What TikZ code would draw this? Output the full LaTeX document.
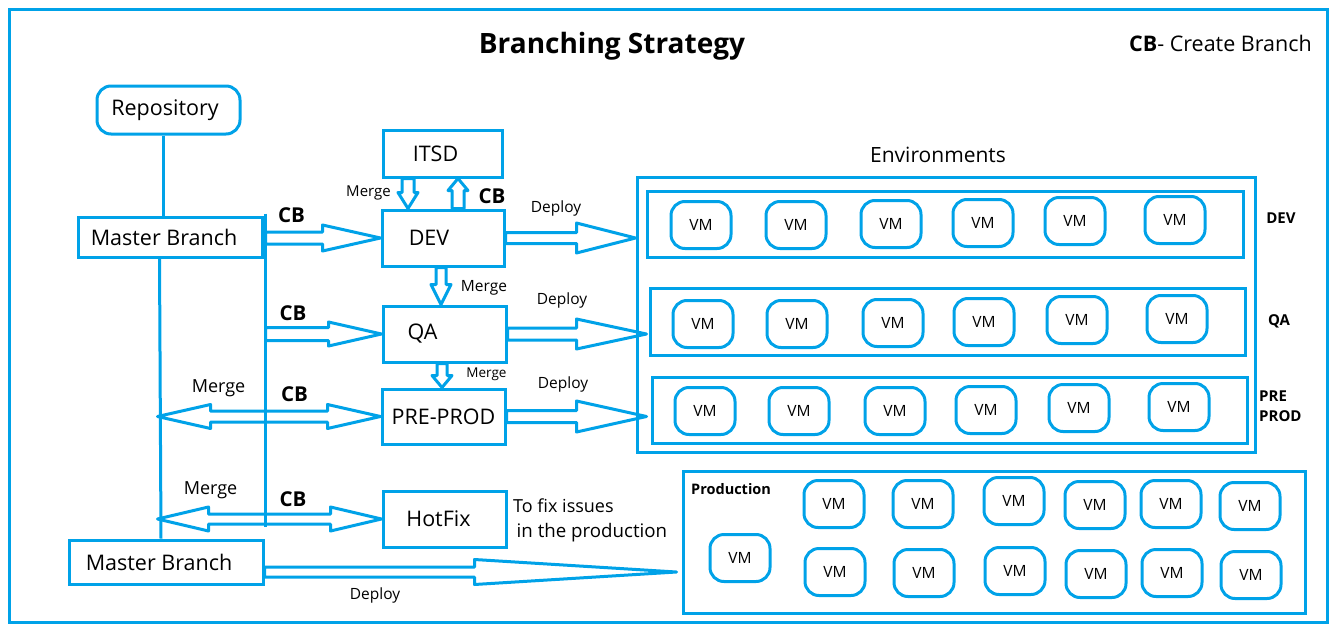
\documentclass[tikz,border=0pt]{standalone}
\usepackage{fontspec}
\setmainfont{Open Sans}
\usetikzlibrary{calc}
\definecolor{bl}{RGB}{0,162,232}
\newcommand\fsz[1]{\fontsize{#1}{#1}\selectfont}
\newcommand\fszb[2]{\fontsize{#1}{#2}\selectfont}
\tikzset{
  ln/.style={draw=bl, line width=3pt},
  blk/.style={draw=bl, line width=3pt, line join=round},
  box/.style={draw=bl, line width=3pt, inner sep=0pt, font=\fsz{21.5}},
  vm/.style={draw=bl, line width=3pt, rounded corners=14pt, minimum width=60pt, minimum height=47pt, inner sep=0pt, font=\fsz{15.5}},
  lbl/.style={inner sep=0pt, font=\fsz{15.5}},
  cb/.style={inner sep=0pt, font=\bfseries\fsz{20.5}},
  envl/.style={inner sep=0pt, font=\bfseries\fsz{15}}
}
% #1 start, #2 tip, #3 shaft half width, #4 head half width, #5 head length (numbers, pt)
\newcommand\blockarrow[5]{%
  \path ($(#2)!#5pt!(#1)$) coordinate (ba-hb);
  \draw[blk] ($(#1)!#3pt!90:(#2)$) -- ($(ba-hb)!#3pt!90:(#2)$) -- ($(ba-hb)!#4pt!90:(#2)$) -- (#2)
    -- ($(ba-hb)!#4pt!-90:(#2)$) -- ($(ba-hb)!#3pt!-90:(#2)$) -- ($(#1)!#3pt!-90:(#2)$) -- cycle;}
% double-headed: #1 tip A, #2 tip B
\newcommand\dblockarrow[5]{%
  \path ($(#1)!#5pt!(#2)$) coordinate (da-a) ($(#2)!#5pt!(#1)$) coordinate (da-b);
  \draw[blk] (#1) -- ($(da-a)!#4pt!90:(#2)$) -- ($(da-a)!#3pt!90:(#2)$) -- ($(da-b)!#3pt!-90:(#1)$)
    -- ($(da-b)!#4pt!-90:(#1)$) -- (#2) -- ($(da-b)!#4pt!90:(#1)$) -- ($(da-b)!#3pt!90:(#1)$)
    -- ($(da-a)!#3pt!-90:(#2)$) -- ($(da-a)!#4pt!-90:(#2)$) -- cycle;}
\begin{document}
\begin{tikzpicture}[x=1pt,y=-1pt]
\useasboundingbox (0,0) rectangle (1336,629);
\fill[white] (0,0) rectangle (1336,629);
\draw[ln] (9,9) rectangle (1327,622);

% titles
\node[inner sep=0pt, font=\bfseries\fsz{28}] (title) at (612,46) {Branching Strategy};
\node[inner sep=0pt, anchor=east, font=\fsz{21.5}] (legend) at (1312,43) {\textbf{CB}- Create Branch};

% left column
\node[box, rounded corners=14pt, minimum width=143pt, minimum height=48pt] (repo) at (168.5,110) {Repository\hspace*{7pt}};
\node[box, minimum width=184pt, minimum height=40pt] (mb1) at (170,237) {Master Branch\hspace*{12pt}};
\node[box, minimum width=194pt, minimum height=44pt] (mb2) at (166,562) {Master Branch\hspace*{14pt}};

% middle column
\node[box, minimum width=119pt, minimum height=47pt] (itsd) at (442.5,153.5) {ITSD\hspace*{14pt}};
\node[box, minimum width=122pt, minimum height=56pt] (dev) at (443,238) {DEV\hspace*{28pt}};
\node[box, minimum width=123pt, minimum height=56pt] (qa) at (444.5,334) {QA\hspace*{44pt}};
\node[box, minimum width=123pt, minimum height=55pt] (pp) at (443.5,416.5) {PRE-PROD};
\node[box, minimum width=123pt, minimum height=56pt] (hf) at (444.5,519) {HotFix\hspace*{12pt}};

% environments
\node[draw=bl, line width=3pt, minimum width=618pt, minimum height=275pt, inner sep=0pt] (env) at (946,314.5) {};
\node[inner sep=0pt, font=\fsz{21}] (envt) at (938,155) {Environments};
\node[draw=bl, line width=3pt, minimum width=596pt, minimum height=66pt, inner sep=0pt] (devenv) at (945,224) {};
\node[draw=bl, line width=3pt, minimum width=595pt, minimum height=67pt, inner sep=0pt] (qaenv) at (947.5,321.5) {};
\node[draw=bl, line width=3pt, minimum width=595pt, minimum height=66pt, inner sep=0pt] (ppenv) at (949.5,410) {};
\node[draw=bl, line width=3pt, minimum width=622pt, minimum height=142pt, inner sep=0pt] (prod) at (994,542) {};

\node[envl] (devl) at (1281,218) {DEV};
\node[envl] (qal) at (1279,321) {QA};
\node[inner sep=0pt, anchor=west, align=left, font=\bfseries\fszb{15}{20}] (ppl) at (1259,406.5) {PRE\\PROD};
\node[inner sep=0pt, anchor=west, font=\bfseries\fsz{14.5}] (prodl) at (691,489) {Production};

% VMs
\foreach \x/\y [count=\i] in {701/225,796/225,891/224,983/223,1075/221,1175/220}
  \node[vm] (dv\i) at (\x,\y) {VM};
\foreach \x/\y [count=\i] in {703/324,797/324,893/323,984/322,1077/320,1177/319}
  \node[vm] (qv\i) at (\x,\y) {VM};
\foreach \x/\y [count=\i] in {705/411,799/411,895/411,986/410,1079/408,1179/407}
  \node[vm] (pv\i) at (\x,\y) {VM};
\foreach \x/\y [count=\i] in {834/504,923/504,1014/501,1095/505,1171/504,1250/506,835/572,924/573,1015/571,1096/574,1172/573,1251/575,740/558}
  \node[vm] (rv\i) at (\x,\y) {VM};

% vertical lines
\coordinate (rl) at ($(repo.south)+(-5.5,0)$);
\draw[ln] (rl) -- (rl |- mb1.north);
\coordinate (ml) at ($(mb1.south)+(-10.5,0)$);
\coordinate (mlb) at ($(mb2.north)+(-5,0)$);
\draw[ln] (ml) -- (mlb);
\coordinate (cbtop) at ($(mb1.north east)+(2,-2)$);
\coordinate (cbbot) at ($(cbtop)+(0,313)$);
\draw[ln] (cbtop) -- (cbbot);

% CB arrows
\coordinate (s1) at (cbtop |- dev.west);
\blockarrow{s1}{dev.west}{6}{13}{58}
\coordinate (s2) at (cbtop |- qa.west);
\blockarrow{s2}{qa.west}{6.5}{12}{53}
\coordinate (l3) at ($(ml |- pp.west)+(-2,0)$);
\dblockarrow{l3}{pp.west}{5.5}{12}{53}
\coordinate (l4) at ($(ml |- hf.west)+(-2,0)$);
\dblockarrow{l4}{hf.west}{5}{12}{51}

% merges between stages
\coordinate (m1s) at ($(itsd.south)+(-34.5,0)$);
\coordinate (m1e) at (m1s |- dev.north);
\blockarrow{m1s}{m1e}{6}{10}{16}
\coordinate (c1s) at ($(dev.north)+(15,0)$);
\coordinate (c1e) at (c1s |- itsd.south);
\blockarrow{c1s}{c1e}{6}{10}{12}
\coordinate (m2s) at ($(dev.south)+(-2,0)$);
\coordinate (m2e) at (m2s |- qa.north);
\blockarrow{m2s}{m2e}{5}{10}{20}
\coordinate (m3s) at ($(qa.south)+(-2.5,0)$);
\coordinate (m3e) at (m3s |- pp.north);
\blockarrow{m3s}{m3e}{5}{10}{12}

% deploy arrows
\coordinate (d1) at (env.west |- dev.east);
\blockarrow{dev.east}{d1}{5.5}{15}{59}
\coordinate (d2) at ($(qaenv.west |- qa.east)+(-2,0)$);
\blockarrow{qa.east}{d2}{6}{15}{70}
\coordinate (d3) at ($(ppenv.west |- pp.east)+(-4,0)$);
\blockarrow{pp.east}{d3}{6}{15.5}{70}
\coordinate (d4s) at ($(mb2.east)+(0,10)$);
\coordinate (d4) at ($(prod.west |- d4s)+(-5,0)$);
\blockarrow{d4s}{d4}{5}{12.5}{202}

% labels
\node[lbl, font=\fsz{15}] (lm1) at (368.5,193) {Merge};
\node[cb] (lc1) at (492,196) {CB};
\node[lbl] (ld1) at (556,208) {Deploy};
\node[lbl, font=\fsz{15.5}] (lm2) at (484,288) {Merge};
\node[lbl] (ld2) at (562,300.5) {Deploy};
\node[lbl, font=\fsz{13.5}] (lm3) at (486.5,374) {Merge};
\node[lbl] (ld3) at (563,384) {Deploy};
\node[cb] (lc2) at (291.5,215.5) {CB};
\node[cb] (lc3) at (293,313) {CB};
\node[lbl, font=\fsz{18}] (lm4) at (218.5,388) {Merge};
\node[cb] (lc4) at (294.5,394) {CB};
\node[lbl, font=\fsz{18}] (lm5) at (210.5,490) {Merge};
\node[cb] (lc5) at (293,499) {CB};
\node[lbl, anchor=west, font=\fsz{18}] (fx1) at (513,505.5) {To fix issues};
\node[lbl, anchor=west, font=\fsz{18.7}] (fx2) at (516.5,532.5) {in the production};
\node[lbl] (ld4) at (375,595) {Deploy};
\end{tikzpicture}
\end{document}
